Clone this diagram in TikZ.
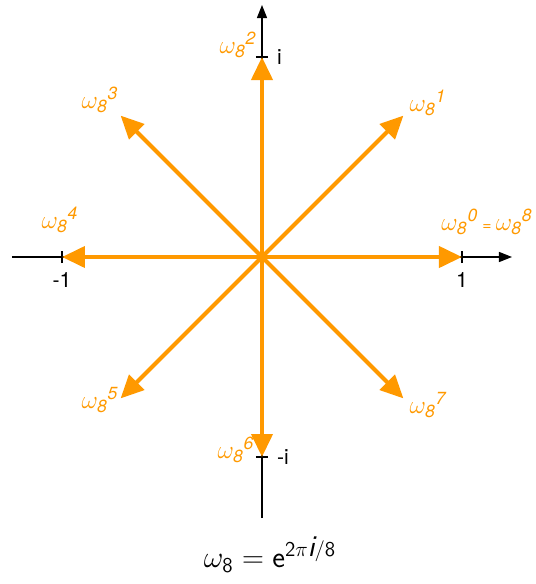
\documentclass[tikz,border=0pt]{standalone}
\usepackage{fontspec}
\setmainfont{TeX Gyre Heros}
\usepackage{tikz}
\usetikzlibrary{positioning,arrows.meta}
\definecolor{rootOrange}{HTML}{FF9900}
\newcommand{\wroot}[1]{$\omega_{\mbox{\normalsize\itshape 8}}{}^{\mbox{\normalsize\itshape #1}}$}

\begin{document}
\begin{tikzpicture}[node distance=0.1cm, font=\large,
    root/.style={draw=rootOrange,line width=2.3pt,-{Triangle[length=0.46cm,width=0.42cm]}},
    rootlbl/.style={text=rootOrange,font=\Large\itshape,inner sep=1pt},
    axislbl/.style={inner sep=1pt}]
    \useasboundingbox (-5.24,-6.54) rectangle (5.48,5.14);

    % axes
    \coordinate (o) at (0,0);
    \coordinate (xl) at (-5,0);
    \coordinate (xr) at (5,0);
    \coordinate (yb) at (0,-5.22);
    \coordinate (yt) at (0,5.04);
    \draw[line width=0.7pt,-{Triangle[length=0.26cm,width=0.2cm]}] (xl) -- (xr);
    \draw[line width=0.7pt,-{Triangle[length=0.26cm,width=0.2cm]}] (yb) -- (yt);

    % ticks
    \coordinate (one) at (4,0);
    \coordinate (mone) at (-4,0);
    \coordinate (ii) at (0,4);
    \coordinate (mii) at (0,-4);
    \draw[line width=0.7pt] ([yshift=-0.12cm]one) -- ([yshift=0.12cm]one);
    \draw[line width=0.7pt] ([yshift=-0.12cm]mone) -- ([yshift=0.12cm]mone);
    \draw[line width=0.7pt] ([xshift=-0.12cm]ii) -- ([xshift=0.12cm]ii);
    \draw[line width=0.7pt] ([xshift=-0.12cm]mii) -- ([xshift=0.12cm]mii);
    \node[axislbl,below=0.26cm of one] (lone) {1};
    \node[axislbl,below=0.26cm of mone] (lmone) {-1};
    \node[axislbl,right=0.26cm of ii] (lii) {i};
    \node[axislbl,right=0.26cm of mii] (lmii) {-i};

    % roots of unity
    \foreach \k in {0,...,7} {
      \coordinate (w\k) at (\k*45:4);
      \draw[root] (o) -- (w\k);
    }

    \node[rootlbl] (l0) at (4.50,0.70) {\wroot{0}\,{\small=}\,\wroot{8}};
    \node[rootlbl] (l1) at (3.32,3.08) {\wroot{1}};
    \node[rootlbl] (l2) at (-0.48,4.24) {\wroot{2}};
    \node[rootlbl] (l3) at (-3.24,3.14) {\wroot{3}};
    \node[rootlbl] (l4) at (-4.04,0.74) {\wroot{4}};
    \node[rootlbl] (l5) at (-3.24,-2.86) {\wroot{5}};
    \node[rootlbl] (l6) at (-0.52,-3.86) {\wroot{6}};
    \node[rootlbl] (l7) at (3.32,-2.96) {\wroot{7}};

    \node[font=\LARGE] (def) at (0.16,-5.96) {$\omega_{\mathsf{8}} = \mathsf{e}^{\mathsf{2}\pi \textsf{\itshape i}/\mathsf{8}}$};
\end{tikzpicture}
\end{document}
